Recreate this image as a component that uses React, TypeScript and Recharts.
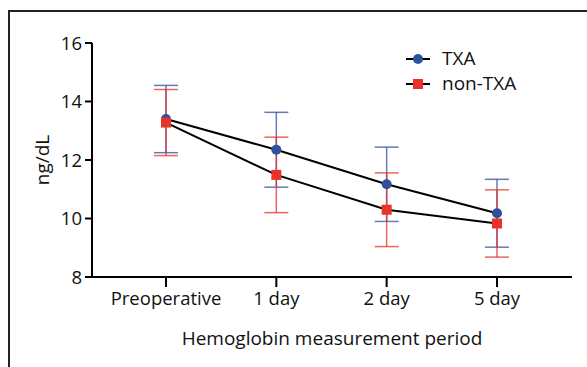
import { ComposedChart, Line, XAxis, YAxis, ErrorBar, Legend } from "recharts"

const periods = ["Preoperative", "1 day", "2 day", "5 day"]
const txaMean = [13.4, 12.35, 11.17, 10.18]
const txaSd = [1.15, 1.28, 1.27, 1.16]
const nonTxaMean = [13.28, 11.49, 10.3, 9.83]
const nonTxaSd = [1.13, 1.29, 1.26, 1.15]
const yTicks = [8, 10, 12, 14, 16]

const BLUE = "#2f4f9f"
const RED = "#e8322a"
const FONT = "'Open Sans', 'Noto Sans', sans-serif"

const data = periods.map((p, i) => ({
  period: p,
  txa: txaMean[i],
  txaErr: txaSd[i],
  nonTxa: nonTxaMean[i],
  nonTxaErr: nonTxaSd[i],
}))

function SquareDot(props: any) {
  const { cx, cy } = props
  if (cx == null || cy == null) return null
  return <rect x={cx - 5} y={cy - 5} width={10} height={10} fill={RED} />
}

function LegendBox() {
  const items = [
    { name: "TXA", shape: "circle" },
    { name: "non-TXA", shape: "square" },
  ]
  return (
    <div style={{ fontFamily: FONT, fontSize: 19, color: "#111", lineHeight: "25px" }}>
      {items.map((it) => (
        <div key={it.name} style={{ display: "flex", alignItems: "center", height: 25 }}>
          <svg width={38} height={16}>
            <line x1={2} y1={8} x2={26} y2={8} stroke="#000" strokeWidth={2} />
            {it.shape === "circle" ? (
              <circle cx={14} cy={8} r={5} fill={BLUE} />
            ) : (
              <rect x={9} y={3} width={10} height={10} fill={RED} />
            )}
          </svg>
          <span>{it.name}</span>
        </div>
      ))}
    </div>
  )
}

export default function App() {
  return (
    <div style={{ position: "absolute", left: 0, top: 0, width: 587, height: 367, background: "#fff" }}>
      {/* frame */}
      <div
        style={{
          position: "absolute",
          left: 8,
          top: 10,
          width: 579,
          height: 357,
          borderTop: "2px solid #222",
          borderLeft: "2px solid #222",
          boxSizing: "border-box",
        }}
      />
      <ComposedChart
        width={587}
        height={367}
        data={data}
        margin={{ top: 43, right: 15, bottom: 15, left: 32 }}
        style={{ fontFamily: FONT }}
      >
        <XAxis
          dataKey="period"
          type="category"
          scale="point"
          interval={0}
          height={75}
          padding={{ left: 74, right: 75 }}
          stroke="#000"
          strokeWidth={2}
          tickSize={10}
          tickMargin={5}
          tick={{ fill: "#111", fontSize: 18.5, fontFamily: FONT }}
          label={{
            value: "Hemoglobin measurement period",
            position: "insideBottom",
            offset: 7,
            fill: "#111",
            fontSize: 19,
            fontFamily: FONT,
          }}
        />
        <YAxis
          domain={[8, 16]}
          ticks={yTicks}
          width={60}
          stroke="#000"
          strokeWidth={2}
          tickSize={7}
          tickMargin={3}
          tick={{ fill: "#111", fontSize: 18.5, fontFamily: FONT }}
          label={{
            content: (p: any) => {
              const vb = p.viewBox || { x: 32, y: 43, width: 60, height: 234 }
              const x = vb.x + 10
              const y = vb.y + vb.height / 2
              return (
                <text
                  x={x}
                  y={y}
                  transform={`rotate(-90 ${x} ${y})`}
                  textAnchor="middle"
                  dominantBaseline="central"
                  fill="#111"
                  fontSize={19}
                  fontFamily={FONT}
                >
                  ng/dL
                </text>
              )
            },
          }}
        />
        <Legend
          verticalAlign="middle"
          align="center"
          layout="vertical"
          content={() => <LegendBox />}
          wrapperStyle={{ top: 46, left: 404, width: 160 }}
        />
        <Line
          dataKey="txa"
          name="TXA"
          stroke="#000"
          strokeWidth={2}
          dot={{ r: 5, fill: BLUE, stroke: BLUE, strokeWidth: 0 }}
          activeDot={false}
          isAnimationActive={false}
        >
          <ErrorBar dataKey="txaErr" width={12} stroke={BLUE} strokeWidth={1.5} strokeOpacity={0.75} direction="y" />
        </Line>
        <Line
          dataKey="nonTxa"
          name="non-TXA"
          stroke="#000"
          strokeWidth={2}
          dot={<SquareDot />}
          activeDot={false}
          isAnimationActive={false}
        >
          <ErrorBar dataKey="nonTxaErr" width={12} stroke={RED} strokeWidth={1.5} strokeOpacity={0.75} direction="y" />
        </Line>
      </ComposedChart>
    </div>
  )
}
